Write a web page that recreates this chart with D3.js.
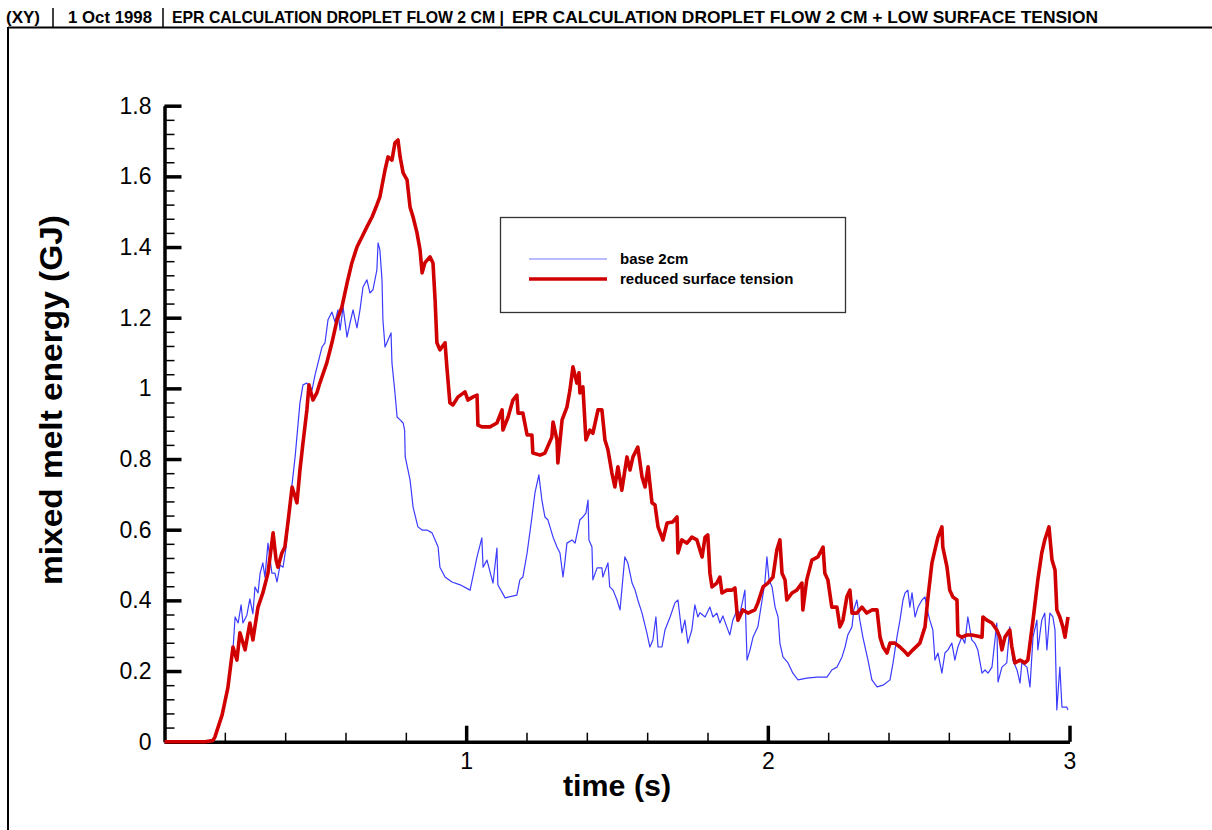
<!DOCTYPE html>
<html>
<head>
<meta charset="utf-8">
<script src="https://cdn.jsdelivr.net/npm/d3@7"></script>
<style>
  body { margin: 0; background: #fff; }
  svg { display: block; font-family: "Liberation Sans", Arial, sans-serif; }
</style>
</head>
<body>
<div id="chart"></div>
<script>
// header strip
const headerTexts = ["(XY)", "1 Oct 1998", "EPR CALCULATION DROPLET FLOW 2 CM |", "EPR CALCULATION DROPLET FLOW 2 CM + LOW SURFACE TENSION"];

// axis ticks
const xTickValues = [1, 2, 3];
const yTickValues = [0, 0.2, 0.4, 0.6, 0.8, 1, 1.2, 1.4, 1.6, 1.8];
const yTickLabels = ["0", "0.2", "0.4", "0.6", "0.8", "1", "1.2", "1.4", "1.6", "1.8"];

// series names
const seriesNames = ["base 2cm", "reduced surface tension"];

// base 2cm: time (s) / mixed melt energy (GJ)
const baseTime = [0, 0.134, 0.16, 0.167, 0.191, 0.21, 0.227, 0.234, 0.244, 0.254, 0.26, 0.273, 0.283, 0.293, 0.3, 0.31, 0.317, 0.326, 0.333, 0.343, 0.356, 0.366, 0.373, 0.383, 0.393, 0.403, 0.416, 0.433, 0.449, 0.459, 0.472, 0.489, 0.499, 0.509, 0.522, 0.532, 0.542, 0.555, 0.565, 0.575, 0.582, 0.592, 0.605, 0.615, 0.625, 0.638, 0.648, 0.658, 0.671, 0.681, 0.691, 0.704, 0.708, 0.714, 0.721, 0.724, 0.731, 0.741, 0.751, 0.754, 0.764, 0.771, 0.781, 0.791, 0.796, 0.798, 0.814, 0.824, 0.84, 0.854, 0.87, 0.887, 0.897, 0.907, 0.913, 0.93, 0.953, 0.98, 1.013, 1.036, 1.052, 1.056, 1.069, 1.089, 1.102, 1.105, 1.129, 1.168, 1.178, 1.188, 1.202, 1.218, 1.228, 1.241, 1.251, 1.261, 1.271, 1.288, 1.301, 1.311, 1.321, 1.327, 1.334, 1.351, 1.361, 1.377, 1.387, 1.397, 1.404, 1.407, 1.417, 1.42, 1.434, 1.45, 1.453, 1.47, 1.476, 1.487, 1.5, 1.51, 1.526, 1.536, 1.55, 1.56, 1.569, 1.583, 1.599, 1.609, 1.619, 1.629, 1.636, 1.649, 1.659, 1.676, 1.692, 1.702, 1.715, 1.725, 1.735, 1.748, 1.758, 1.768, 1.775, 1.792, 1.808, 1.818, 1.831, 1.841, 1.851, 1.864, 1.874, 1.884, 1.898, 1.908, 1.924, 1.931, 1.941, 1.951, 1.967, 1.981, 1.99, 1.997, 2.004, 2.014, 2.024, 2.034, 2.04, 2.05, 2.067, 2.083, 2.1, 2.129, 2.163, 2.196, 2.212, 2.229, 2.246, 2.256, 2.265, 2.279, 2.285, 2.295, 2.305, 2.315, 2.332, 2.345, 2.362, 2.382, 2.405, 2.415, 2.428, 2.438, 2.448, 2.455, 2.464, 2.471, 2.478, 2.488, 2.498, 2.511, 2.521, 2.531, 2.537, 2.547, 2.554, 2.564, 2.577, 2.587, 2.597, 2.61, 2.62, 2.63, 2.643, 2.653, 2.663, 2.676, 2.686, 2.696, 2.71, 2.72, 2.73, 2.743, 2.759, 2.763, 2.776, 2.792, 2.802, 2.812, 2.826, 2.836, 2.842, 2.859, 2.869, 2.879, 2.892, 2.895, 2.908, 2.918, 2.925, 2.935, 2.945, 2.952, 2.958, 2.968, 2.975, 2.991, 2.995];
const baseEnergy = [0, 0, 0.004, 0.013, 0.076, 0.152, 0.26, 0.353, 0.336, 0.387, 0.336, 0.358, 0.404, 0.362, 0.438, 0.421, 0.477, 0.506, 0.466, 0.562, 0.477, 0.477, 0.452, 0.5, 0.494, 0.551, 0.676, 0.806, 0.959, 1.01, 1.015, 0.995, 1.038, 1.072, 1.117, 1.129, 1.194, 1.216, 1.188, 1.222, 1.165, 1.23, 1.145, 1.185, 1.222, 1.171, 1.222, 1.287, 1.307, 1.27, 1.279, 1.335, 1.412, 1.392, 1.307, 1.194, 1.117, 1.137, 1.157, 1.072, 0.987, 0.919, 0.911, 0.902, 0.882, 0.806, 0.741, 0.664, 0.608, 0.599, 0.599, 0.591, 0.571, 0.551, 0.494, 0.466, 0.452, 0.444, 0.429, 0.523, 0.577, 0.494, 0.514, 0.449, 0.548, 0.444, 0.407, 0.415, 0.458, 0.466, 0.534, 0.636, 0.704, 0.755, 0.684, 0.636, 0.628, 0.579, 0.551, 0.534, 0.466, 0.506, 0.562, 0.571, 0.562, 0.628, 0.636, 0.647, 0.684, 0.571, 0.551, 0.458, 0.492, 0.492, 0.466, 0.506, 0.438, 0.429, 0.401, 0.373, 0.523, 0.506, 0.449, 0.429, 0.401, 0.364, 0.308, 0.268, 0.288, 0.353, 0.268, 0.268, 0.316, 0.353, 0.393, 0.401, 0.308, 0.344, 0.279, 0.316, 0.387, 0.353, 0.365, 0.353, 0.381, 0.353, 0.364, 0.336, 0.356, 0.325, 0.302, 0.344, 0.373, 0.364, 0.429, 0.231, 0.26, 0.296, 0.325, 0.401, 0.449, 0.523, 0.458, 0.438, 0.381, 0.353, 0.279, 0.24, 0.223, 0.194, 0.175, 0.18, 0.183, 0.183, 0.203, 0.211, 0.24, 0.268, 0.302, 0.325, 0.373, 0.401, 0.344, 0.296, 0.231, 0.175, 0.155, 0.16, 0.175, 0.223, 0.296, 0.344, 0.401, 0.421, 0.429, 0.381, 0.421, 0.353, 0.381, 0.401, 0.41, 0.364, 0.344, 0.316, 0.231, 0.251, 0.194, 0.251, 0.26, 0.279, 0.231, 0.268, 0.296, 0.279, 0.353, 0.288, 0.279, 0.26, 0.194, 0.203, 0.194, 0.211, 0.336, 0.169, 0.211, 0.223, 0.325, 0.231, 0.203, 0.166, 0.223, 0.211, 0.155, 0.296, 0.344, 0.26, 0.344, 0.364, 0.26, 0.364, 0.353, 0.316, 0.09, 0.211, 0.098, 0.098, 0.09];

// reduced surface tension: time (s) / mixed melt energy (GJ)
const lowTime = [0, 0.134, 0.16, 0.167, 0.191, 0.21, 0.227, 0.24, 0.25, 0.267, 0.283, 0.293, 0.31, 0.326, 0.343, 0.36, 0.37, 0.376, 0.389, 0.399, 0.409, 0.423, 0.439, 0.449, 0.459, 0.472, 0.479, 0.492, 0.505, 0.515, 0.538, 0.555, 0.572, 0.588, 0.605, 0.621, 0.638, 0.655, 0.671, 0.688, 0.704, 0.714, 0.731, 0.741, 0.754, 0.764, 0.774, 0.781, 0.791, 0.804, 0.814, 0.824, 0.837, 0.847, 0.854, 0.863, 0.88, 0.89, 0.897, 0.903, 0.913, 0.93, 0.936, 0.946, 0.956, 0.973, 0.996, 1.006, 1.023, 1.036, 1.039, 1.052, 1.079, 1.102, 1.119, 1.122, 1.139, 1.155, 1.168, 1.172, 1.188, 1.202, 1.218, 1.221, 1.245, 1.261, 1.284, 1.288, 1.301, 1.304, 1.318, 1.334, 1.344, 1.354, 1.367, 1.374, 1.377, 1.387, 1.397, 1.41, 1.42, 1.437, 1.45, 1.46, 1.47, 1.483, 1.493, 1.503, 1.516, 1.533, 1.543, 1.553, 1.569, 1.583, 1.593, 1.603, 1.616, 1.626, 1.636, 1.649, 1.652, 1.666, 1.685, 1.699, 1.702, 1.715, 1.732, 1.748, 1.765, 1.782, 1.792, 1.801, 1.808, 1.815, 1.831, 1.841, 1.848, 1.864, 1.881, 1.891, 1.898, 1.901, 1.917, 1.934, 1.957, 1.967, 1.984, 2.0, 2.017, 2.03, 2.04, 2.047, 2.057, 2.063, 2.08, 2.096, 2.113, 2.116, 2.129, 2.146, 2.166, 2.183, 2.189, 2.199, 2.212, 2.229, 2.239, 2.249, 2.262, 2.272, 2.279, 2.295, 2.312, 2.328, 2.345, 2.362, 2.372, 2.382, 2.395, 2.405, 2.421, 2.438, 2.455, 2.464, 2.481, 2.504, 2.521, 2.531, 2.544, 2.554, 2.564, 2.577, 2.58, 2.594, 2.603, 2.613, 2.627, 2.63, 2.643, 2.66, 2.676, 2.693, 2.71, 2.713, 2.726, 2.743, 2.759, 2.769, 2.776, 2.786, 2.802, 2.809, 2.819, 2.836, 2.852, 2.862, 2.879, 2.895, 2.908, 2.918, 2.932, 2.942, 2.952, 2.958, 2.968, 2.978, 2.985, 2.995];
const lowEnergy = [0, 0, 0.003, 0.013, 0.076, 0.152, 0.268, 0.231, 0.308, 0.26, 0.336, 0.288, 0.381, 0.421, 0.477, 0.591, 0.514, 0.494, 0.534, 0.551, 0.619, 0.721, 0.676, 0.769, 0.845, 0.939, 1.01, 0.967, 0.987, 1.015, 1.072, 1.129, 1.194, 1.23, 1.297, 1.355, 1.4, 1.429, 1.457, 1.485, 1.519, 1.542, 1.618, 1.655, 1.646, 1.695, 1.703, 1.655, 1.61, 1.59, 1.513, 1.485, 1.44, 1.392, 1.327, 1.355, 1.372, 1.355, 1.25, 1.129, 1.109, 1.129, 1.061, 0.959, 0.953, 0.976, 0.99, 0.967, 0.976, 0.981, 0.896, 0.891, 0.891, 0.902, 0.939, 0.882, 0.919, 0.967, 0.981, 0.93, 0.93, 0.868, 0.868, 0.817, 0.811, 0.817, 0.862, 0.905, 0.854, 0.789, 0.911, 0.947, 0.995, 1.061, 1.015, 1.044, 0.987, 1.004, 0.854, 0.882, 0.873, 0.939, 0.939, 0.854, 0.826, 0.761, 0.721, 0.778, 0.712, 0.806, 0.769, 0.806, 0.834, 0.749, 0.721, 0.778, 0.676, 0.67, 0.608, 0.579, 0.571, 0.619, 0.622, 0.636, 0.534, 0.571, 0.562, 0.579, 0.571, 0.523, 0.579, 0.585, 0.477, 0.438, 0.449, 0.466, 0.421, 0.429, 0.429, 0.435, 0.364, 0.344, 0.373, 0.364, 0.373, 0.393, 0.438, 0.449, 0.466, 0.543, 0.571, 0.477, 0.458, 0.401, 0.421, 0.429, 0.449, 0.373, 0.458, 0.514, 0.523, 0.551, 0.477, 0.458, 0.381, 0.381, 0.325, 0.344, 0.41, 0.429, 0.364, 0.364, 0.381, 0.364, 0.373, 0.373, 0.296, 0.268, 0.251, 0.279, 0.279, 0.268, 0.254, 0.245, 0.26, 0.279, 0.325, 0.41, 0.506, 0.543, 0.579, 0.608, 0.551, 0.494, 0.429, 0.41, 0.401, 0.302, 0.296, 0.302, 0.302, 0.299, 0.296, 0.353, 0.344, 0.336, 0.316, 0.296, 0.26, 0.296, 0.316, 0.268, 0.223, 0.231, 0.223, 0.231, 0.344, 0.458, 0.534, 0.571, 0.608, 0.514, 0.486, 0.373, 0.353, 0.325, 0.296, 0.353];

const W = 1212, H = 830;
const svg = d3.select("#chart").append("svg")
    .attr("width", W)
    .attr("height", H);

// frame and header
svg.append("line").attr("x1", 8).attr("x2", W).attr("y1", 27.5).attr("y2", 27.5)
    .attr("stroke", "#000").attr("stroke-width", 2);
svg.append("line").attr("x1", 8).attr("x2", 8).attr("y1", 27).attr("y2", H)
    .attr("stroke", "#000").attr("stroke-width", 2);

const headerPos = [[6, 34], [68, 84], [172, 332], [512, 586]];
const headerSep = [53, 163];
svg.selectAll(".hdr").data(headerTexts).enter().append("text")
    .attr("class", "hdr")
    .attr("x", (d, i) => headerPos[i][0])
    .attr("y", 23)
    .attr("textLength", (d, i) => headerPos[i][1])
    .attr("lengthAdjust", "spacingAndGlyphs")
    .style("font-family", '"Liberation Sans Narrow", "Arial Narrow", "Liberation Sans", sans-serif')
    .style("font-weight", "bold")
    .style("font-size", "17px")
    .text(d => d);
svg.selectAll(".sep").data(headerSep).enter().append("line")
    .attr("x1", d => d).attr("x2", d => d)
    .attr("y1", 8).attr("y2", 27)
    .attr("stroke", "#000").attr("stroke-width", 1.5);

// scales
const x = d3.scaleLinear().domain([0, 3]).range([164.5, 1069.5]);
const y = d3.scaleLinear().domain([0, 1.8]).range([741.7, 105.7]);

// minor ticks
const yMinor = d3.range(0, 1.8001, 0.04).map(v => +v.toFixed(2));
const xMinor = d3.range(0, 3.0001, 0.2).map(v => +v.toFixed(1));

svg.append("g")
    .attr("transform", `translate(${x(0)},0)`)
    .call(d3.axisLeft(y).tickValues(yMinor).tickSize(-10).tickSizeOuter(0).tickFormat(""))
    .call(g => g.select(".domain").remove())
    .call(g => g.selectAll("line").attr("stroke", "#000").attr("stroke-width", 1.5));

svg.append("g")
    .attr("transform", `translate(0,${y(0)})`)
    .call(d3.axisBottom(x).tickValues(xMinor).tickSize(-9).tickSizeOuter(0).tickFormat(""))
    .call(g => g.select(".domain").remove())
    .call(g => g.selectAll("line").attr("stroke", "#000").attr("stroke-width", 1.5));

// major axes
const yAxis = svg.append("g")
    .attr("transform", `translate(${x(0)},0)`)
    .call(d3.axisLeft(y).tickValues(yTickValues).tickSize(-17).tickSizeOuter(0)
        .tickPadding(13).tickFormat((d, i) => yTickLabels[i]));
yAxis.select(".domain").attr("stroke", "#000").attr("stroke-width", 3.5);
yAxis.selectAll("line").attr("stroke", "#000").attr("stroke-width", 3.5);
yAxis.selectAll("text").attr("fill", "#000")
    .style("font-size", "23px").style("font-family", '"Liberation Sans", Arial, sans-serif');

const xAxis = svg.append("g")
    .attr("transform", `translate(0,${y(0)})`)
    .call(d3.axisBottom(x).tickValues(xTickValues).tickSize(-16).tickSizeOuter(0)
        .tickPadding(11).tickFormat(d3.format("d")));
xAxis.select(".domain").attr("stroke", "#000").attr("stroke-width", 3.5);
xAxis.selectAll("line").attr("stroke", "#000").attr("stroke-width", 3.5);
xAxis.selectAll("text").attr("fill", "#000")
    .style("font-size", "23px").style("font-family", '"Liberation Sans", Arial, sans-serif');

// axis titles
svg.append("text")
    .attr("x", 617)
    .attr("y", 796)
    .attr("text-anchor", "middle")
    .attr("textLength", 108)
    .attr("lengthAdjust", "spacingAndGlyphs")
    .style("font-size", "30px")
    .style("font-weight", "bold")
    .text("time (s)");

svg.append("text")
    .attr("transform", "translate(62,400) rotate(-90)")
    .attr("text-anchor", "middle")
    .attr("textLength", 370)
    .attr("lengthAdjust", "spacingAndGlyphs")
    .style("font-size", "31px")
    .style("font-weight", "bold")
    .text("mixed melt energy (GJ)");

// lines
const line = d3.line()
    .x(d => x(d[0]))
    .y(d => y(d[1]));

const baseData = baseTime.map((t, i) => [t, baseEnergy[i]]);
const lowData = lowTime.map((t, i) => [t, lowEnergy[i]]);

const colors = ["#3b3bff", "#d10000"];
const widths = [1.2, 3.6];

svg.append("path")
    .datum(baseData)
    .attr("d", line)
    .attr("fill", "none")
    .attr("stroke", colors[0])
    .attr("stroke-width", widths[0])
    .attr("stroke-linejoin", "round");

svg.append("path")
    .datum(lowData)
    .attr("d", line)
    .attr("fill", "none")
    .attr("stroke", colors[1])
    .attr("stroke-width", widths[1])
    .attr("stroke-linejoin", "round");

// legend
const legend = svg.append("g");
legend.append("rect")
    .attr("x", 500.5).attr("y", 217.5)
    .attr("width", 345).attr("height", 95)
    .attr("fill", "#fff")
    .attr("stroke", "#333")
    .attr("stroke-width", 1.3);

seriesNames.forEach((name, i) => {
    const ly = 259 + i * 20;
    legend.append("line")
        .attr("x1", 529).attr("x2", 607)
        .attr("y1", ly).attr("y2", ly)
        .attr("stroke", colors[i])
        .attr("stroke-width", i === 0 ? 1 : 3.5)
        .attr("opacity", i === 0 ? 0.7 : 1);
    legend.append("text")
        .attr("x", 620)
        .attr("y", ly + 5)
        .style("font-size", "15px")
        .style("font-weight", "bold")
        .text(name);
});
</script>
</body>
</html>
